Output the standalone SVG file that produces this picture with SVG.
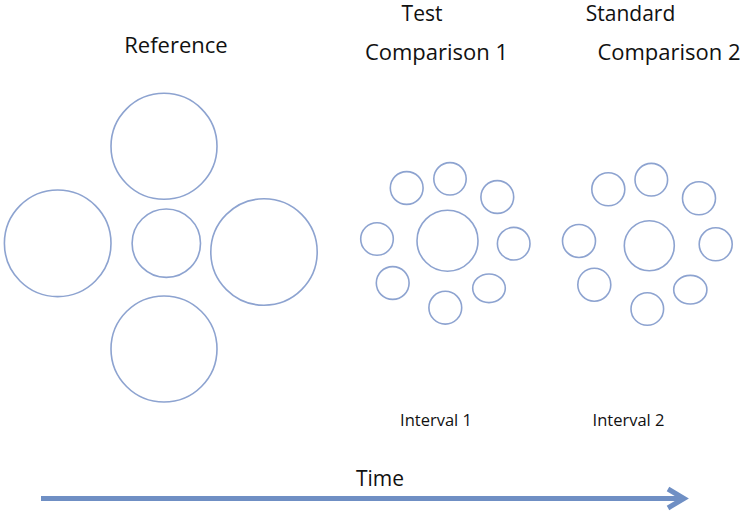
<svg xmlns="http://www.w3.org/2000/svg" width="740" height="513" viewBox="0 0 740 513">
<defs>
<style>
.c{fill:none;stroke:#8DA3D0;stroke-width:1.6}
.t{font-family:"Open Sans","Liberation Sans",Arial,sans-serif;fill:#111;text-anchor:middle}
.big{font-size:22px}
.top{font-size:21px}
.sm{font-size:16.5px}
.arr{fill:none;stroke:#6F8FC4;stroke-width:5}
</style>
</defs>
<rect width="740" height="513" fill="#fff"/>
<g id="labels">
<text class="t big" x="176" y="53">Reference</text>
<text class="t top" x="422" y="20.5">Test</text>
<text class="t big" x="436.5" y="60">Comparison 1</text>
<text class="t top" x="630.5" y="20.5">Standard</text>
<text class="t big" x="669" y="60">Comparison 2</text>
<text class="t sm" x="436" y="426">Interval 1</text>
<text class="t sm" x="628.5" y="426">Interval 2</text>
<text class="t top" x="380" y="486">Time</text>
</g>
<g id="reference">
<circle id="ref-top" class="c" cx="164" cy="146.3" r="53"/>
<circle id="ref-left" class="c" cx="57.7" cy="243.3" r="53.3"/>
<circle id="ref-center" class="c" cx="166.3" cy="243.2" r="34.2"/>
<circle id="ref-right" class="c" cx="264" cy="252" r="53.2"/>
<circle id="ref-bottom" class="c" cx="164" cy="349" r="53"/>
</g>
<g id="comparison1">
<circle id="c1-center" class="c" cx="447.5" cy="240.7" r="30.5"/>
<circle id="c1-tl" class="c" cx="406.7" cy="188" r="16.4"/>
<circle id="c1-t" class="c" cx="450" cy="178.8" r="16.2"/>
<circle id="c1-tr" class="c" cx="497.3" cy="197" r="16.4"/>
<circle id="c1-l" class="c" cx="377" cy="239" r="16.3"/>
<circle id="c1-r" class="c" cx="513.7" cy="243.7" r="16.3"/>
<circle id="c1-bl" class="c" cx="392.7" cy="283" r="16.4"/>
<circle id="c1-b" class="c" cx="445.3" cy="307.7" r="16.4"/>
<ellipse id="c1-br" class="c" cx="489" cy="288.3" rx="16.3" ry="14.3"/>
</g>
<g id="comparison2">
<circle id="c2-center" class="c" cx="649.3" cy="245.7" r="25"/>
<circle id="c2-tl" class="c" cx="608.3" cy="189.3" r="16.5"/>
<circle id="c2-t" class="c" cx="651.3" cy="179.7" r="16.3"/>
<circle id="c2-tr" class="c" cx="699" cy="198.3" r="16.5"/>
<circle id="c2-l" class="c" cx="579" cy="241" r="16.5"/>
<circle id="c2-r" class="c" cx="715.7" cy="244.3" r="16.5"/>
<circle id="c2-bl" class="c" cx="594.3" cy="284.7" r="16.5"/>
<circle id="c2-b" class="c" cx="647.3" cy="309" r="16.3"/>
<ellipse id="c2-br" class="c" cx="690.3" cy="289.7" rx="16.6" ry="14.3"/>
</g>
<g id="connectors">
<line class="arr" x1="41" y1="498.5" x2="683" y2="498.5"/>
<polyline class="arr" points="668,489 684,498.5 668,508"/>
</g>
</svg>
